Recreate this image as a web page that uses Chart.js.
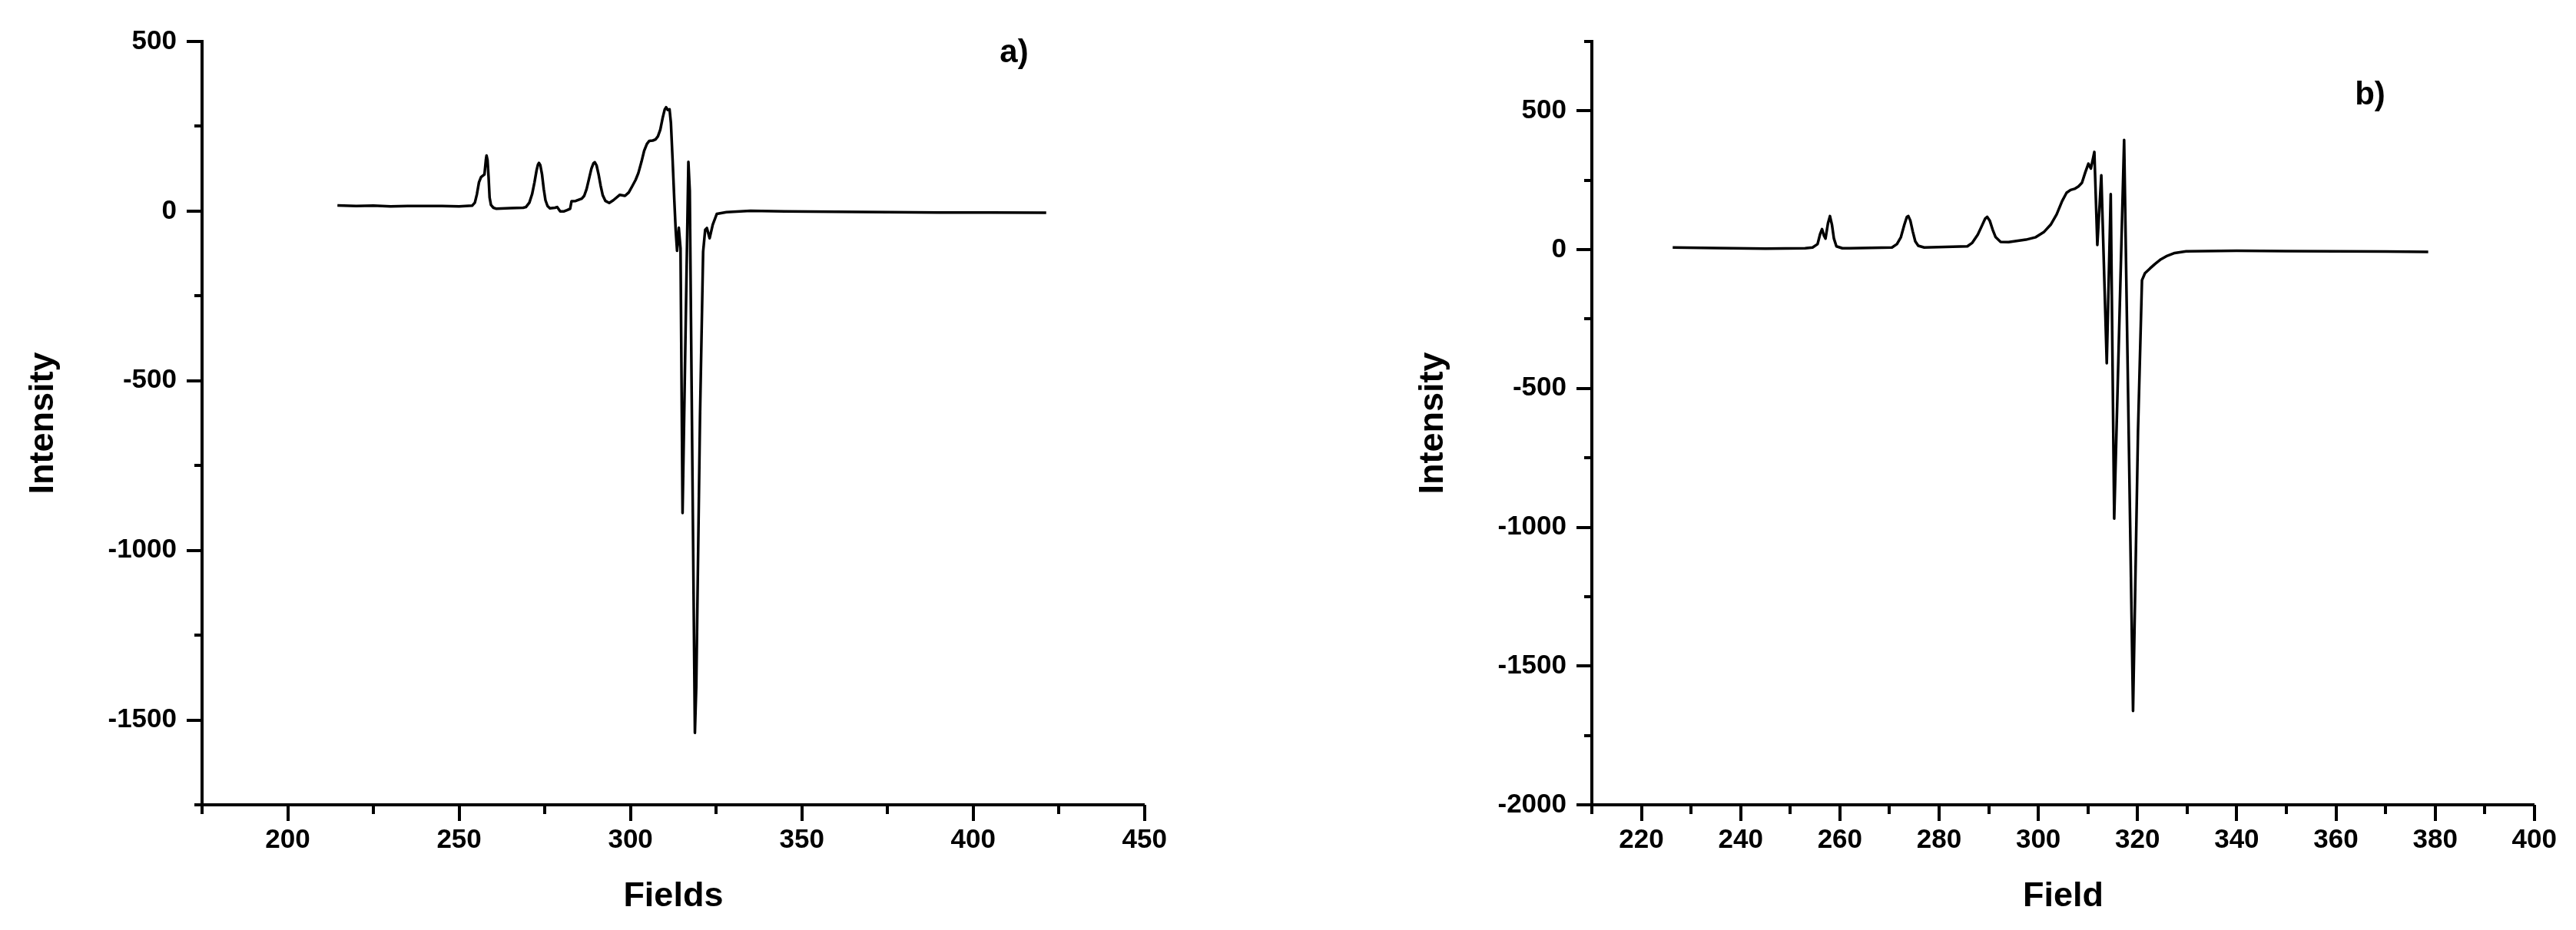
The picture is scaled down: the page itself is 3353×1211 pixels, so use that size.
<!DOCTYPE html>
<html>
<head>
<meta charset="utf-8">
<script src="https://cdn.jsdelivr.net/npm/chart.js@4.4.1/dist/chart.umd.min.js"></script>
<style>
  html, body { margin: 0; padding: 0; background: #fff; }
  body { width: 3353px; height: 1211px; position: relative; overflow: hidden; }
  canvas { position: absolute; top: 0; }
  #chartA { left: 0; }
  #chartB { left: 1809px; }
</style>
</head>
<body>
<canvas id="chartA" width="1544" height="1211"></canvas>
<canvas id="chartB" width="1544" height="1211"></canvas>
<script>
// panel a) spectrum
const fieldsA = [
  214.5, 220, 225, 230, 235, 240, 245, 250, 253.8, 254.6, 255.2, 255.8, 256.4, 256.9, 257.4,
  257.8, 258.0, 258.3, 258.6, 258.9, 259.3, 260, 260.9, 265, 268.7, 269.5, 270.5, 271.3,
  272.0, 272.6, 273.0, 273.3, 273.7, 274.2, 274.7, 275.2, 275.8, 276.5, 278.0, 278.6, 279.5,
  280.5, 281.5, 282.4, 282.8, 284, 285.8, 286.5, 287.2, 287.9, 288.6, 289.2, 289.6, 290.1,
  290.7, 291.3, 291.9, 292.7, 293.8, 295, 296.9, 298.4, 299.5, 300.6, 301.5, 302.3, 303.2,
  304, 304.8, 305.5, 306.5, 307.3, 308.0, 308.7, 309.4, 310.0, 310.4, 310.9, 311.4, 311.8,
  312.3, 312.8, 313.2, 313.6, 314.1, 314.6, 315.2, 316.9, 317.3, 318.8, 319.2, 320.3, 321.2,
  321.8, 322.3, 323.1, 324.0, 325.2, 328, 335, 345, 360, 375, 390, 405, 421.3
];
const intensityA = [
  17, 15, 16, 14, 15, 15, 15, 14, 16, 25, 50, 85, 100, 104, 108,
  150, 164, 150, 100, 40, 18, 10, 7, 9, 10, 12, 25, 50,
  85, 120, 137, 142, 135, 108, 65, 32, 15, 8, 10, 12, -1,
  -1, 3, 7, 29, 30, 37, 45, 65, 95, 125, 141, 144, 135,
  108, 75, 47, 30, 24, 32, 48, 45, 55, 75, 92, 112, 145,
  178, 198, 207, 208, 211, 220, 240, 275, 300, 306, 298, 300, 260,
  150, 30, -57, -117, -49, -109, -890, 145, 60, -1538, -1400, -600, -120,
  -55, -50, -80, -40, -8, -3, 1, -1, -2, -3, -4, -4, -5
];

// panel b) spectrum
const fieldsB = [
  226.3, 235, 245, 253, 254.5, 255.5, 256.0, 256.4, 256.8, 257.1, 257.6, 258.0, 258.4, 258.8,
  259.3, 260.5, 262, 270.5, 271.5, 272.3, 273.0, 273.5, 273.8, 274.2, 274.7, 275.2, 275.8,
  277, 285.7, 286.7, 287.8, 288.6, 289.3, 289.7, 290.2, 290.8, 291.4, 292.4, 294, 297.5,
  299.5, 301.1, 302.5, 303.7, 304.8, 305.7, 306.5, 307.3, 308.1, 308.8, 309.5, 310.1, 310.6,
  311.3, 311.9, 312.7, 313.8, 314.6, 315.3, 317.3, 319.1, 320.1, 320.9, 321.5, 322.5, 323.5,
  324.7, 326, 327.5, 329.8, 340, 350, 360, 370, 378.6
];
const intensityB = [
  8, 6, 4, 5, 8, 20, 55, 74, 50, 40, 95, 121, 90, 40,
  12, 5, 5, 8, 20, 45, 90, 118, 121, 105, 65, 30, 14,
  8, 12, 25, 54, 85, 112, 118, 105, 72, 45, 28, 27, 36,
  45, 63, 90, 127, 175, 205, 215, 219, 228, 241, 280, 310, 292,
  352, 17, 268, -409, 200, -969, 395, -1662, -654, -110, -85, -68, -52,
  -35, -22, -12, -6, -4, -5, -6, -7, -8
];

Chart.defaults.font.family = "'Liberation Sans', Arial, sans-serif";
Chart.defaults.color = "#000";

// short minor / long major tick marks, drawn outside the axes
const tickMarks = {
  id: "tickMarks",
  afterDraw(chart) {
    const ctx = chart.ctx;
    const xs = chart.scales.x;
    const ys = chart.scales.y;
    ctx.save();
    ctx.strokeStyle = "#000";
    ctx.lineWidth = 4;
    ctx.beginPath();
    xs.ticks.forEach((t) => {
      const px = Math.round(xs.getPixelForValue(t.value));
      const len = t.label !== "" ? 21 : 12;
      ctx.moveTo(px, xs.top);
      ctx.lineTo(px, xs.top + len);
    });
    ys.ticks.forEach((t) => {
      const py = Math.round(ys.getPixelForValue(t.value));
      const len = t.label !== "" ? 20 : 10;
      ctx.moveTo(ys.right, py);
      ctx.lineTo(ys.right - len, py);
    });
    ctx.stroke();
    ctx.restore();
  },
};

const panelLabel = {
  id: "panelLabel",
  afterDraw(chart, args, opts) {
    const ctx = chart.ctx;
    ctx.save();
    ctx.font = "bold 42px 'Liberation Sans', Arial, sans-serif";
    ctx.fillStyle = "#000";
    ctx.textAlign = "center";
    ctx.textBaseline = "middle";
    ctx.fillText(opts.text, opts.x, opts.y);
    ctx.restore();
  },
};

function makeChart(id, fields, values, opts) {
  const points = fields.map((f, i) => ({ x: f, y: values[i] }));
  return new Chart(document.getElementById(id), {
    type: "scatter",
    data: {
      datasets: [
        {
          data: points,
          showLine: true,
          borderColor: "#000",
          borderWidth: 3.5,
          borderJoinStyle: "round",
          pointRadius: 0,
          tension: 0,
        },
      ],
    },
    options: {
      responsive: false,
      animation: false,
      devicePixelRatio: 1,
      layout: { padding: { top: 46, right: 46, bottom: 0, left: 0 } },
      plugins: {
        legend: { display: false },
        tooltip: { enabled: false },
        panelLabel: opts.label,
      },
      scales: {
        x: {
          type: "linear",
          min: opts.xMin,
          max: opts.xMax,
          afterFit: (scale) => { scale.height = 163; },
          grid: { drawOnChartArea: false, drawTicks: false, color: "rgba(0,0,0,0)" },
          border: { display: true, color: "#000", width: 4 },
          ticks: {
            stepSize: opts.xStep,
            padding: 25,
            autoSkip: false,
            maxRotation: 0,
            font: { size: 35, weight: "bold" },
            callback: (v) => (v % opts.xMajor === 0 ? String(v) : ""),
          },
          title: {
            display: true,
            text: opts.xTitle,
            font: { size: 45, weight: "bold" },
            padding: { top: 0, bottom: 16 },
          },
        },
        y: {
          type: "linear",
          min: opts.yMin,
          max: opts.yMax,
          afterFit: (scale) => { scale.width = 263; },
          grid: { drawOnChartArea: false, drawTicks: false, color: "rgba(0,0,0,0)" },
          border: { display: true, color: "#000", width: 4 },
          ticks: {
            stepSize: 250,
            padding: 33,
            autoSkip: false,
            font: { size: 35, weight: "bold" },
            callback: (v) => (v % 500 === 0 ? String(v) : ""),
          },
          title: {
            display: true,
            text: "Intensity",
            font: { size: 45, weight: "bold" },
            padding: { top: 30, bottom: 0 },
          },
        },
      },
    },
    plugins: [tickMarks, panelLabel],
  });
}

makeChart("chartA", fieldsA, intensityA, {
  xMin: 175, xMax: 450, xStep: 25, xMajor: 50,
  yMin: -1750, yMax: 500,
  xTitle: "Fields",
  label: { text: "a)", x: 1320, y: 69 },
});

makeChart("chartB", fieldsB, intensityB, {
  xMin: 210, xMax: 400, xStep: 10, xMajor: 20,
  yMin: -2000, yMax: 750,
  xTitle: "Field",
  label: { text: "b)", x: 1276, y: 124 },
});
</script>
</body>
</html>
